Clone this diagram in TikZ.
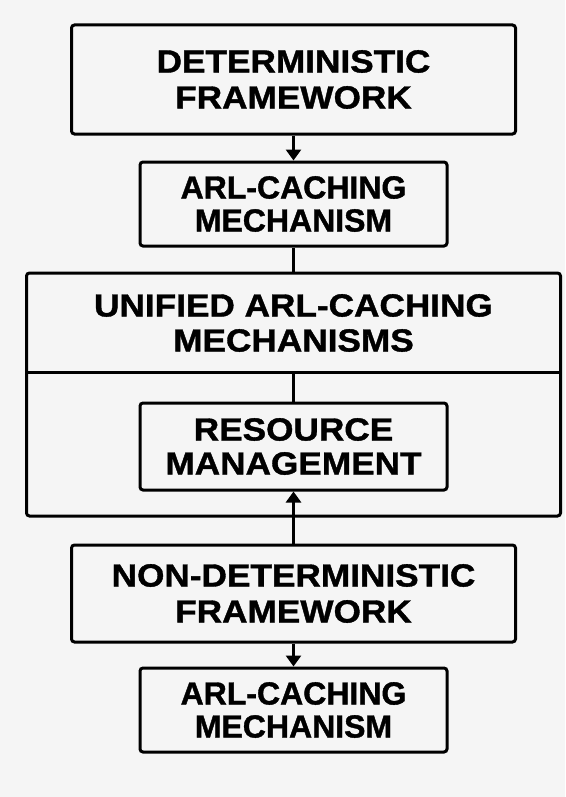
\documentclass[tikz,border=0pt]{standalone}
\usepackage{fontspec}
\setmainfont{Liberation Sans}[FakeBold=1.2]
\newfontfamily\wideF{Liberation Sans}[FakeStretch=1.10,FakeBold=1.2]
\usetikzlibrary{arrows.meta}
\definecolor{bg}{HTML}{F5F5F5}
\begin{document}
\begin{tikzpicture}[x=1pt,y=-1pt,
  frame/.style={draw=black, line width=3pt, fill=bg, rounded corners=3pt, inner sep=0pt},
  box/.style={frame, align=center, text=black, font=\bfseries\fontsize{32}{33}\selectfont},
  widebox/.style={frame, align=center, text=black, font=\wideF\bfseries\fontsize{32}{36}\selectfont},
  plaintext/.style={align=center, text=black, inner sep=0pt, font=\wideF\bfseries\fontsize{32}{35}\selectfont},
  conn/.style={line width=3pt, draw=black},
  arr/.style={conn, -{Triangle[length=11pt,width=15pt]}}
]
\useasboundingbox (0,0) rectangle (565,797);
\fill[bg] (0,0) rectangle (565,797);

\node[widebox, minimum width=444pt, minimum height=109pt] (det) at (293.5,79.5) {DETERMINISTIC\\FRAMEWORK};
\node[box, minimum width=307pt, minimum height=84pt] (arl1) at (293.5,204) {ARL-CACHING\\MECHANISM};

\node[frame, minimum width=534pt, minimum height=243pt] (unified) at (293.5,394.5) {};
\node[plaintext] (utitle) at (293.5,323) {UNIFIED ARL-CACHING\\MECHANISMS};
\coordinate (divL) at (26.5,372);
\coordinate (divR) at (560.5,372);
\coordinate (divC) at (293.5,372);
\draw[conn] (divL) -- (divR);

\node[widebox, font=\wideF\bfseries\fontsize{32}{34}\selectfont, minimum width=307pt, minimum height=87pt] (res) at (293.5,446.5) {RESOURCE\\MANAGEMENT};

\node[widebox, minimum width=444pt, minimum height=97pt] (nondet) at (293.5,593.5) {NON-DETERMINISTIC\\FRAMEWORK};
\node[box, minimum width=307pt, minimum height=84pt] (arl2) at (293.5,710) {ARL-CACHING\\MECHANISM};

\draw[arr] (det.south) -- (arl1.north);
\draw[conn] (arl1.south) -- (unified.north);
\draw[conn] (divC) -- (res.north);
\draw[arr] (nondet.north) -- (res.south);
\draw[arr] (nondet.south) -- (arl2.north);
\end{tikzpicture}
\end{document}
